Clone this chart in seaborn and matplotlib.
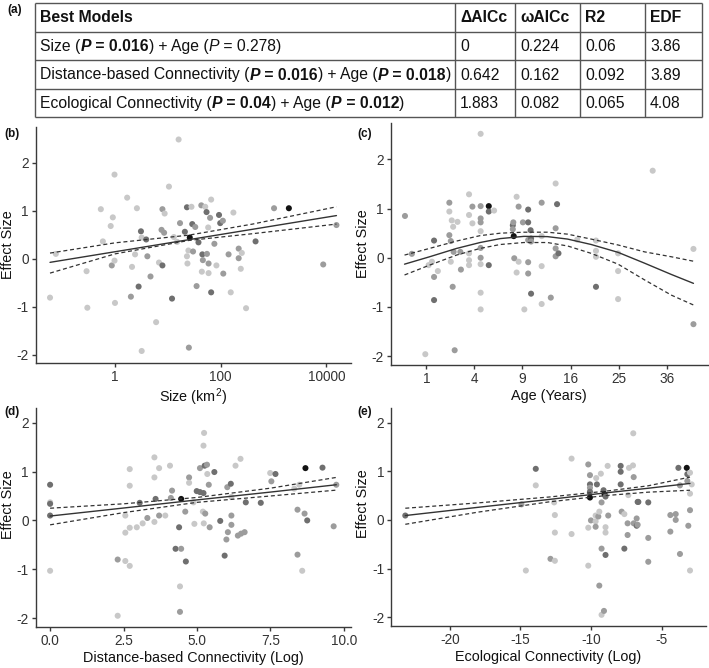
import numpy as np
import matplotlib
matplotlib.use('Agg')
import matplotlib.pyplot as plt
import seaborn as sns

# ---- (a) model table ----
header = ['Best Models', 'ΔAICc', 'ωAICc', 'R2', 'EDF']
predictors = ['Size', 'Distance-based Connectivity', 'Ecological Connectivity']
pred_p = ['0.016', '0.016', '0.04']
age_p = ['0.278', '0.018', '0.012']
delta_aicc = ['0', '0.642', '1.883']
w_aicc = ['0.224', '0.162', '0.082']
r2 = ['0.06', '0.092', '0.065']
edf = ['3.86', '3.89', '4.08']

# ---- (b) size (km2) ----
size_km2 = [0.059, 0.076, 0.29, 0.30, 0.54, 0.59, 0.83, 0.91, 0.87, 0.98,
            0.98, 1.0, 1.7, 2.0, 2.1, 2.4, 2.6, 2.8, 3.1, 3.2,
            3.2, 3.9, 4.1, 4.7, 6.0, 6.8, 7.6, 7.9, 7.9, 8.5,
            8.7, 10.5, 12, 13, 15, 16, 17, 21, 23, 23,
            23.5, 25, 26, 24.5, 28, 29, 30, 33, 35, 38,
            43, 44, 45, 46, 51, 54, 55, 58, 59, 59,
            63, 66, 66, 76, 83, 93, 98, 110, 112, 141,
            155, 174, 219, 219, 240, 251, 302, 457, 1023, 1950,
            8710, 15500]
size_eff = [-0.81, 0.10, -0.26, -1.02, 1.03, 0.36, 0.68, 0.86, -0.14, -0.04,
            1.75, -0.92, 1.27, -0.79, -0.17, 0.09, 1.05, -0.58, 0.57, 0.44,
            -1.92, 0.40, 0.05, -0.37, -1.32, -0.08, 0.60, 1.03, -0.14, 0.54,
            0.94, 1.50, -0.83, 0.45, 0.35, 2.48, 0.74, 0.56, 1.07, 0.05,
            -0.10, -1.85, 0.44, 0.17, 1.08, 0.72, 0.15, 0.66, -0.57, 0.34,
            1.11, -0.27, 0.09, -0.03, 1.08, 0.97, 0.10, 0.65, -0.10, -0.30,
            0.85, 1.23, -0.70, 0.31, -0.14, 0.91, 0.74, 0.79, -0.31, 0.09,
            -0.70, 0.96, 0.21, 0.01, -0.21, 0.12, -1.03, 0.36, 1.05, 1.05,
            -0.12, 0.70]
size_n = [1, 1, 1, 1, 1, 1, 1, 1, 2, 1,
          1, 1, 1, 2, 1, 1, 1, 3, 3, 1,
          1, 3, 2, 2, 1, 1, 2, 2, 3, 2,
          1, 1, 3, 1, 1, 1, 2, 3, 3, 1,
          1, 2, 6, 1, 1, 3, 2, 2, 2, 3,
          2, 1, 3, 2, 1, 3, 2, 1, 2, 1,
          2, 1, 3, 2, 1, 3, 3, 2, 2, 2,
          1, 1, 2, 2, 1, 1, 1, 3, 2, 6,
          2, 2]
size_fit_x = [0.059, 15500]
size_fit = [-0.076, 0.897]
size_fit_x_ci = [0.059, 1, 25, 400, 15500]
size_upper = [0.117, 0.33, 0.49, 0.72, 1.08]
size_lower = [-0.30, 0.10, 0.38, 0.52, 0.72]

# ---- (c) age (years) ----
age_yr = [0.31, 0.49, 0.96, 1.10, 1.25, 1.35, 1.35, 1.35, 1.54, 2.19,
          2.19, 2.19, 2.28, 2.28, 2.34, 2.40, 2.43, 2.46, 2.53, 2.72,
          2.92, 2.96, 3.57, 3.57, 3.57, 3.57, 3.57, 3.84, 3.84, 4.54,
          4.54, 4.54, 4.54, 4.54, 4.54, 4.54, 4.54, 4.54, 4.54, 5.29,
          5.29, 5.29, 5.81, 7.84, 7.84, 7.90, 7.95, 8.01, 8.29, 8.29,
          8.53, 8.53, 9.06, 9.24, 9.73, 9.73, 9.73, 9.73, 9.73, 10.05,
          10.11, 10.11, 10.11, 11.56, 11.56, 11.56, 11.56, 12.89, 13.62, 13.62,
          13.62, 13.62, 13.84, 14.06, 17.14, 20.52, 20.52, 20.52, 20.52, 24.9,
          24.9, 24.9, 32.6, 43.0, 43.0]
age_eff = [0.85, 0.08, -1.96, -0.15, -0.08, 0.35, -0.39, -0.86, -0.27, 1.12,
           0.94, 0.46, 0.34, -0.08, 0.76, -0.59, 0.63, 0.12, -1.88, 0.73,
           0.12, -0.24, 1.29, 0.87, 0.09, -0.05, -0.15, 1.04, 0.70, 2.52,
           1.05, 0.80, 0.72, 0.54, 0.20, 0.00, -0.13, -0.71, -1.05, 1.05,
           0.94, -0.15, 0.96, 0.66, 0.58, 0.72, 0.44, -0.01, 1.24, -0.30,
           -0.08, 1.04, 0.72, -1.05, 0.98, 0.72, 0.36, -0.09, -0.32, 0.56,
           0.39, -0.73, 0.33, 1.12, 0.44, -0.17, -0.94, -0.81, 1.51, 0.60,
           0.19, 0.03, 1.09, 0.09, 0.37, 0.35, 0.14, 0.02, -0.59, 0.09,
           -0.27, -0.84, 1.77, 0.18, -1.35]
age_n = [2, 2, 1, 1, 1, 3, 2, 3, 1, 2,
         1, 2, 2, 1, 1, 2, 1, 2, 2, 1,
         2, 2, 1, 1, 1, 1, 1, 2, 1, 1,
         2, 2, 2, 1, 2, 2, 1, 1, 1, 6,
         3, 3, 1, 3, 2, 2, 6, 2, 1, 1,
         1, 2, 2, 1, 3, 3, 2, 2, 2, 3,
         3, 3, 2, 2, 1, 1, 1, 2, 1, 2,
         2, 2, 3, 3, 1, 1, 1, 1, 3, 1,
         1, 1, 1, 1, 2]
age_fit_x = [0.30, 1.14, 2.66, 4.49, 6.45, 9.18, 12.39, 15.52, 19.62, 24.9, 30.7, 37.2, 43.0]
age_fit = [-0.13, 0.02, 0.19, 0.31, 0.39, 0.435, 0.43, 0.38, 0.27, 0.11, -0.11, -0.34, -0.52]
age_upper = [0.055, 0.19, 0.34, 0.45, 0.50, 0.52, 0.52, 0.48, 0.38, 0.26, 0.12, 0.02, -0.07]
age_lower = [-0.35, -0.15, 0.055, 0.19, 0.27, 0.31, 0.31, 0.24, 0.09, -0.13, -0.45, -0.76, -0.96]

# ---- (d) distance-based connectivity (log) ----
dist_conn = [0, 0, 0, 0, 0, 2.30, 2.30, 2.56, 2.56, 2.56,
             2.71, 2.71, 2.71, 2.71, 2.95, 3.05, 3.15, 3.31, 3.55, 3.55,
             3.55, 3.59, 3.71, 3.71, 3.92, 4.08, 4.11, 4.15, 4.27, 4.39,
             4.42, 4.42, 4.46, 4.46, 4.60, 4.62, 4.73, 4.73, 4.88, 4.91,
             4.99, 5.10, 5.10, 5.20, 5.22, 5.22, 5.24, 5.26, 5.23, 5.28,
             5.34, 5.35, 5.40, 5.43, 5.59, 5.79, 5.94, 6.00, 6.05, 6.03,
             6.15, 6.17, 6.17, 6.17, 6.31, 6.39, 6.48, 6.50, 6.62, 6.66,
             7.17, 7.49, 7.53, 7.67, 8.31, 8.42, 8.42, 8.48, 8.58, 8.66,
             8.69, 8.75, 9.27, 9.65, 9.74]
dist_eff = [0.73, 0.37, 0.34, 0.10, -1.03, -0.80, -1.95, 0.10, -0.25, -0.83,
            1.05, 0.71, -0.15, -0.93, -0.14, 0.36, -0.06, 0.05, 1.29, 0.88,
            -0.03, 0.44, 1.07, 0.10, 0.10, 1.12, 0.46, 0.61, -0.58, -0.14,
            -1.35, -1.87, 0.44, -0.58, 0.18, -0.84, 0.88, 0.77, 0.37, -0.07,
            0.60, 1.07, 0.58, 0.18, 1.53, 0.56, 1.79, 1.12, -0.06, 0.14,
            1.14, 0.95, 0.73, -0.14, 0.99, -0.01, -0.72, -0.39, -0.24, 0.68,
            0.75, 0.10, -0.09, 0.48, 1.12, -0.31, 1.26, -0.27, -0.24, 0.37,
            0.36, 0.97, 0.80, 0.95, 0.65, 0.22, -0.70, 0.73, -1.03, 0.14,
            1.07, 0.00, 1.08, -0.12, 0.73]
dist_n = [3, 1, 3, 3, 1, 2, 1, 1, 1, 1,
          1, 1, 1, 1, 1, 3, 1, 2, 1, 1,
          1, 3, 1, 2, 1, 1, 2, 2, 3, 3,
          1, 2, 6, 2, 2, 3, 2, 1, 1, 1,
          3, 2, 3, 1, 1, 3, 1, 3, 1, 2,
          2, 1, 2, 2, 3, 3, 3, 2, 2, 2,
          3, 2, 2, 1, 1, 2, 1, 2, 2, 3,
          3, 1, 2, 3, 1, 2, 2, 1, 1, 2,
          6, 3, 3, 2, 2]
dist_fit_x = [0, 2.5, 5, 7.5, 9.74]
dist_fit = [0.09, 0.254, 0.42, 0.58, 0.73]
dist_upper = [0.25, 0.34, 0.47, 0.66, 0.88]
dist_lower = [-0.09, 0.16, 0.37, 0.50, 0.62]

# ---- (e) ecological connectivity (log) ----
eco_conn = [-23.14, -14.93, -14.62, -13.92, -13.92, -12.88, -12.57, -12.57, -12.57, -12.62,
            -11.39, -11.39, -10.21, -10.21, -10.21, -10.09, -10.09, -10.09, -10.09, -10.09,
            -10.02, -9.69, -9.69, -9.69, -9.65, -9.60, -9.50, -9.43, -9.43, -9.32,
            -9.27, -9.27, -9.27, -9.13, -9.10, -9.06, -8.99, -8.99, -8.99, -8.99,
            -8.84, -8.80, -7.92, -7.92, -7.92, -7.85, -7.66, -7.66, -7.43, -7.43,
            -7.38, -7.33, -7.05, -7.03, -7.00, -7.00, -6.79, -6.79, -6.72, -6.72,
            -6.67, -5.97, -5.97, -5.97, -4.41, -4.41, -4.03, -4.03, -3.84, -3.73,
            -3.73, -3.25, -3.21, -3.21, -3.14, -3.02, -3.02, -3.02, -3.02, -2.90]
eco_eff = [0.09, 0.32, -1.04, 1.05, 0.71, -0.80, 0.10, -0.26, -0.84, 0.36,
           1.26, -0.29, 1.14, -0.16, -0.94, 0.92, 0.73, 0.66, 0.58, 0.46,
           -0.01, -0.03, -0.14, 0.09, 0.86, 0.73, 0.07, 0.17, -1.35, 0.95,
           -0.59, 0.36, -1.95, 0.61, -1.87, 0.53, 0.48, -0.15, -0.26, -0.72,
           1.11, 0.09, 1.11, 0.99, 0.73, 0.17, 0.12, -0.59, -0.07, -0.31,
           0.51, 1.07, 1.12, 1.78, 0.88, -0.07, 0.03, -0.12, 0.37, -0.10,
           0.37, 0.36, -0.37, -0.86, 0.10, -0.24, 0.12, 0.00, 1.07, 0.71,
           -0.70, 1.07, 0.94, 0.80, -0.12, 0.20, 0.97, 0.54, -1.04, 0.73]
eco_n = [3, 2, 1, 3, 1, 2, 1, 1, 1, 1,
         1, 1, 2, 1, 1, 2, 3, 2, 3, 6,
         2, 1, 2, 1, 1, 3, 2, 1, 2, 1,
         2, 2, 1, 3, 2, 6, 3, 1, 1, 3,
         1, 2, 3, 3, 3, 2, 1, 3, 2, 2,
         1, 1, 1, 1, 2, 2, 2, 3, 3, 2,
         3, 3, 2, 2, 2, 2, 2, 2, 3, 2,
         2, 6, 3, 2, 2, 2, 1, 1, 1, 1]
eco_fit_x = [-23.14, -18, -13, -9, -6, -3.02]
eco_fit = [0.09, 0.259, 0.42, 0.555, 0.65, 0.75]
eco_upper = [0.24, 0.35, 0.47, 0.59, 0.70, 0.88]
eco_lower = [-0.09, 0.16, 0.37, 0.50, 0.57, 0.61]

# overlapping semi-transparent points -> darker greys
shades = {1: '#c8c8c8', 2: '#9c9c9c', 3: '#6f6f6f', 6: '#121212'}

sns.set_theme(style='ticks')
plt.rcParams['font.family'] = ['Liberation Sans', 'DejaVu Sans']
plt.rcParams['axes.unicode_minus'] = False
plt.rcParams['mathtext.default'] = 'regular'

W, H = 709, 668
fig = plt.figure(figsize=(W / 100, H / 100), dpi=100)
renderer = fig.canvas.get_renderer()

# overlay in pixel coordinates for the table and panel letters
ax0 = fig.add_axes([0, 0, 1, 1])
ax0.set_xlim(0, W)
ax0.set_ylim(H, 0)
ax0.axis('off')

col_edges = [35, 455, 515, 580, 645, 702]
row_edges = [3, 32, 60, 89, 117]
tbl_size = 11.3
line_col = '#555555'
ax0.hlines(row_edges, col_edges[0], col_edges[-1], color=line_col, lw=1.0)
ax0.vlines(col_edges, row_edges[0], row_edges[-1], color=line_col, lw=1.0)


def rich_text(x, y, parts):
    for text, weight, style in parts:
        t = ax0.text(x, y, text, fontsize=tbl_size, fontweight=weight,
                     fontstyle=style, va='baseline', ha='left', color='#111111')
        x += t.get_window_extent(renderer).width


def model_parts(name, p_pred, p_age):
    parts = []
    for i, (lab, p) in enumerate([(name, p_pred), ('Age', p_age)]):
        w = 'bold' if float(p) < 0.05 else 'normal'
        parts += [((' + ' if i else '') + lab + ' (', 'normal', 'normal'),
                  ('P', w, 'italic'), (' = ' + p, w, 'normal'),
                  (')', 'normal', 'normal')]
    return parts


def baseline(r):
    return (row_edges[r] + row_edges[r + 1]) / 2 + 5

for c, h in enumerate(header):
    ax0.text(col_edges[c] + 5, baseline(0), h, fontsize=tbl_size,
             fontweight='bold', va='baseline', color='#111111')
for r in range(3):
    rich_text(col_edges[0] + 5, baseline(r + 1),
              model_parts(predictors[r], pred_p[r], age_p[r]))
    for c, vals in enumerate([delta_aicc, w_aicc, r2, edf]):
        ax0.text(col_edges[c + 1] + 5, baseline(r + 1), vals[r],
                 fontsize=tbl_size, va='baseline', color='#111111')

for lab, (x, y) in zip(['(a)', '(b)', '(c)', '(d)', '(e)'],
                       [(15, 10), (12, 134), (365, 134), (12, 412), (365, 412)]):
    ax0.text(x, y, lab, fontsize=8.5, fontweight='bold', ha='center',
             va='center', color='#111111')


def px_axes(l, t, r, b):
    return fig.add_axes([l / W, 1 - b / H, (r - l) / W, (b - t) / H])


def panel(ax, x, y, n, fx, fy, fxc, fu, fl, xlabel, ylim, ylab_y):
    sns.scatterplot(x=x, y=y, hue=n, palette=shades, s=19, edgecolor='none',
                    legend=False, ax=ax, zorder=2)
    sns.lineplot(x=fx, y=fy, color='#333333', lw=1.0, ax=ax, zorder=3)
    sns.lineplot(x=fxc, y=fu, color='#333333', lw=0.9, ax=ax, zorder=3,
                 linestyle=(0, (3.2, 2.2)))
    sns.lineplot(x=fxc, y=fl, color='#333333', lw=0.9, ax=ax, zorder=3,
                 linestyle=(0, (3.2, 2.2)))
    ax.set_ylim(*ylim)
    ax.set_yticks([-2, -1, 0, 1, 2])
    ax.set_xlabel(xlabel, fontsize=10.4, color='#111111', labelpad=2)
    ax.set_ylabel('Effect Size', fontsize=10.4, color='#111111')
    ax.yaxis.set_label_coords(-0.066, ylab_y)
    for s in ['top', 'right']:
        ax.spines[s].set_visible(False)
    for s in ['left', 'bottom']:
        ax.spines[s].set_color('#3a3a3a')
        ax.spines[s].set_linewidth(1.0)
    ax.tick_params(length=3, width=1.0, color='#3a3a3a', labelsize=9.8,
                   labelcolor='#333333', pad=2)
    ax.set_facecolor('white')


# (b)
ax_b = px_axes(35.7, 127, 350.7, 363)
ax_b.set_xscale('log')
panel(ax_b, size_km2, size_eff, size_n, size_fit_x, size_fit, size_fit_x_ci,
      size_upper, size_lower, 'Size (km$^{2}$)', (-2.17, 2.74), 0.5)
ax_b.set_xlim(10 ** -1.5, 10 ** 4.46)
ax_b.xaxis.set_minor_locator(matplotlib.ticker.NullLocator())
ax_b.set_xticks([1, 100, 10000])
ax_b.set_xticklabels(['1', '100', '10000'])

# (c)
ax_c = px_axes(390.7, 123, 708, 365)
ax_c.set_xscale('function', functions=(lambda v: np.sqrt(np.clip(v, 0, None)),
                                       lambda v: np.square(v)))
panel(ax_c, age_yr, age_eff, age_n, age_fit_x, age_fit, age_fit_x,
      age_upper, age_lower, 'Age (Years)', (-2.18, 2.74), 0.5)
ax_c.set_xlim(0.26 ** 2, 6.86 ** 2)
ax_c.set_xticks([1, 4, 9, 16, 25, 36])
ax_c.set_xticklabels(['1', '4', '9', '16', '25', '36'])

# (d)
ax_d = px_axes(35.7, 408, 350.7, 627)
panel(ax_d, dist_conn, dist_eff, dist_n, dist_fit_x, dist_fit, dist_fit_x,
      dist_upper, dist_lower, 'Distance-based Connectivity (Log)', (-2.18, 2.3), 0.56)
ax_d.set_xlim(-0.49, 10.23)
ax_d.set_xticks([0, 2.5, 5, 7.5, 10])
ax_d.set_xticklabels(['0.0', '2.5', '5.0', '7.5', '10.0'])

# (e)
ax_e = px_axes(391, 408, 706, 626)
panel(ax_e, eco_conn, eco_eff, eco_n, eco_fit_x, eco_fit, eco_fit_x,
      eco_upper, eco_lower, 'Ecological Connectivity (Log)', (-2.18, 2.3), 0.56)
ax_e.set_xlim(-24.15, -1.89)
ax_e.set_xticks([-20, -15, -10, -5])

fig.savefig('out.png', dpi=100)
